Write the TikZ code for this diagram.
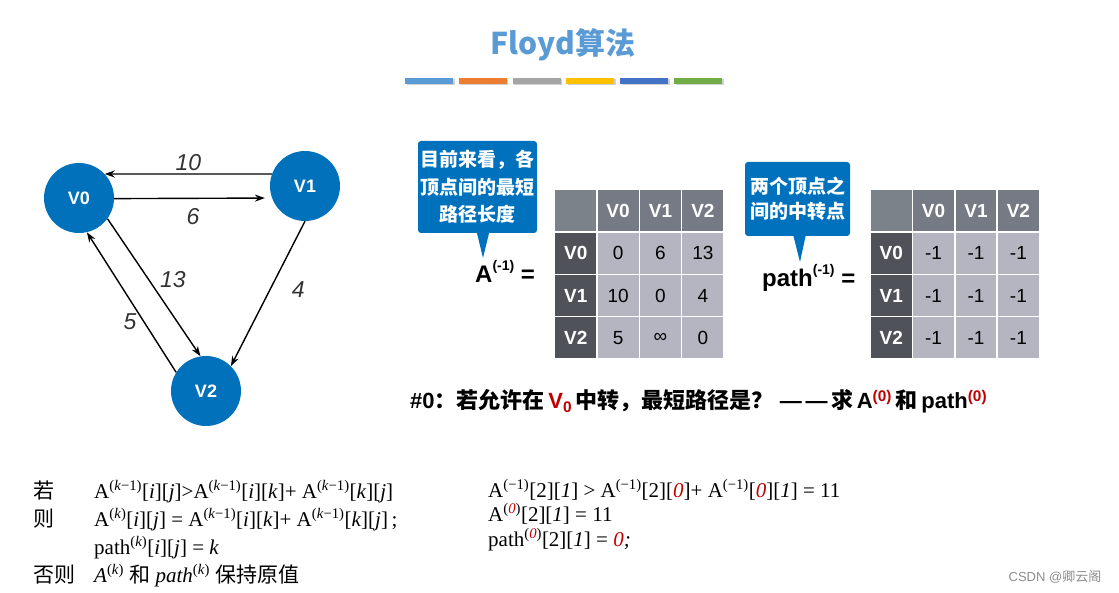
\documentclass[tikz,border=0pt]{standalone}
\usepackage{fontspec}
\setmainfont{Liberation Sans}
\newfontfamily\cjk{Noto Sans CJK SC}
\newfontfamily\timesrm{Liberation Serif}
\usepackage{xcolor}
\usepackage{tikz}
\usetikzlibrary{arrows.meta,positioning}
\definecolor{nodeblue}{HTML}{0071BA}
\definecolor{tipblue}{HTML}{0071BC}
\definecolor{titleblue}{HTML}{5B9BD5}
\definecolor{barorange}{HTML}{ED7D31}
\definecolor{bargray}{HTML}{A5A5A5}
\definecolor{baryellow}{HTML}{FFC000}
\definecolor{barblue}{HTML}{4472C4}
\definecolor{bargreen}{HTML}{70AD47}
\definecolor{cornergray}{HTML}{7C828A}
\definecolor{hdrgray}{HTML}{757A84}
\definecolor{rowgray}{HTML}{4F5359}
\definecolor{cellgray}{HTML}{B5B5C1}
\definecolor{hotred}{HTML}{C00000}
\tikzset{
  vert/.style={circle, fill=nodeblue, minimum size=70pt, inner sep=0pt,
               text=white, font=\bfseries\fontsize{18}{18}\selectfont},
  edge/.style={-{Stealth[length=10pt,width=7pt]}, line width=1.4pt},
  wlabel/.style={font=\itshape\fontsize{23}{23}\selectfont, text=black!80, inner sep=1pt},
  cell/.style={draw=white, line width=1.5pt, minimum size=42.4pt, inner sep=0pt,
               font=\fontsize{19}{19}\selectfont},
  cornercell/.style={cell, fill=cornergray},
  hdrcell/.style={cell, fill=hdrgray, text=white, font=\bfseries\fontsize{19}{19}\selectfont},
  rowcell/.style={cell, fill=rowgray, text=white, font=\bfseries\fontsize{19}{19}\selectfont},
  valcell/.style={cell, fill=cellgray},
  tipbox/.style={fill=tipblue, rounded corners=3pt, text=white, align=center, inner sep=0pt},
  eqlabel/.style={anchor=base west, inner sep=0pt, font=\bfseries\fontsize{24}{24}\selectfont},
  formula/.style={anchor=base west, inner sep=0pt, font=\timesrm\fontsize{21}{21}\selectfont},
}
\newcommand{\supx}[1]{\textsuperscript{#1}}
\newcommand{\eqsup}[1]{\raisebox{0.5em}{\fontsize{14}{14}\selectfont #1}}
\newcommand{\disthead}[1]{%
  \node[cornercell] (#1-c) at (21.2,21.2) {};
  \node[hdrcell] (#1-h0) at (63.6,21.2) {V0};
  \node[hdrcell] (#1-h1) at (106,21.2) {V1};
  \node[hdrcell] (#1-h2) at (148.4,21.2) {V2};
}
\newcommand{\distrow}[6]{%
  \node[rowcell] (#1-r#2) at (21.2,#2*42.4+21.2) {#3};
  \node[valcell] (#1-r#2c0) at (63.6,#2*42.4+21.2) {#4};
  \node[valcell] (#1-r#2c1) at (106,#2*42.4+21.2) {#5};
  \node[valcell] (#1-r#2c2) at (148.4,#2*42.4+21.2) {#6};
}

\begin{document}
\begin{tikzpicture}[x=1pt, y=-1pt]
    \useasboundingbox (0,0) rectangle (1119,593);
    % title and colour bars
    \node[text=titleblue, font=\cjk\bfseries\fontsize{30}{30}\selectfont] (title) at (563,45) {Floyd算法};
    \foreach \x/\c in {405/titleblue, 458.8/barorange, 512.6/bargray,
                       566.4/baryellow, 620.2/barblue, 674/bargreen} {
      \fill[black!18] (\x+1.5,79.5) rectangle ++(48,6);
      \fill[\c] (\x,78) rectangle ++(48,6);
    }

    % graph
    \node[vert] (V0) at (79,198) {V0};
    \node[vert] (V1) at (305,186) {V1};
    \node[vert] (V2) at (206,391) {V2};
    \draw[edge] (V1.160) -- node[wlabel, above=2pt] {10} (V0.43);
    \draw[edge, shorten >=7pt] (V0.-1) -- node[wlabel, below=8pt] {6} (V1.200);
    \draw[edge] (V0.-36) -- node[wlabel, pos=0.44, right=10pt] {13} (V2.99);
    \draw[edge] (V2.148) -- node[wlabel, pos=0.36, left=6pt] {5} (V0.-77);
    \draw[edge] (V1.-90) -- node[wlabel, pos=0.47, right=20pt] {4} (V2.45);

    % distance matrix
    \begin{scope}[shift={(554.5,189.5)}]
      \disthead{A}
      \distrow{A}{1}{V0}{0}{6}{13}
      \distrow{A}{2}{V1}{10}{0}{4}
      \distrow{A}{3}{V2}{5}{∞}{0}
    \end{scope}
    \node[tipbox, minimum width=119pt, minimum height=92pt,
          font=\cjk\bfseries\fontsize{19}{27.5}\selectfont] (tipA) at (477.5,187)
          {目前来看，各\\顶点间的最短\\路径长度};
    \coordinate (tipAend) at (483,258);
    \fill[tipblue] ([xshift=-1pt,yshift=2pt]tipA.south) -- ([xshift=12pt,yshift=2pt]tipA.south) -- (tipAend) -- cycle;
    \node[eqlabel] (Aeq) at (475,283) {A\eqsup{(-1)} =};

    % path matrix
    \begin{scope}[shift={(870,189.5)}]
      \disthead{P}
      \distrow{P}{1}{V0}{-1}{-1}{-1}
      \distrow{P}{2}{V1}{-1}{-1}{-1}
      \distrow{P}{3}{V2}{-1}{-1}{-1}
    \end{scope}
    \node[tipbox, minimum width=105pt, minimum height=74pt,
          font=\cjk\bfseries\fontsize{19}{25}\selectfont] (tipP) at (797.5,199)
          {两个顶点之\\间的中转点};
    \coordinate (tipPend) at (800,262);
    \fill[tipblue] ([xshift=-4.5pt,yshift=2pt]tipP.south) -- ([xshift=8.5pt,yshift=2pt]tipP.south) -- (tipPend) -- cycle;
    \node[eqlabel] (Peq) at (762,287) {path\eqsup{(-1)} =};

    % question
    \node[anchor=base west, inner sep=0pt, font=\bfseries\fontsize{22}{22}\selectfont] (goal) at (410,409)
      {\#0{\cjk ：若允许在}\,{\color{hotred}V\textsubscript{0}}\,{\cjk 中转，最短路径是？}\ —\,—\,{\cjk 求}\,A\textsuperscript{\color{hotred}(0)}\,{\cjk 和}\,path\textsuperscript{\color{hotred}(0)}};

    % update rule
    \node[formula] (ifword) at (33,498) {\cjk 若};
    \node[formula] (ifrule) at (94,498)
      {A\supx{(\textit{k}−1)}[\textit{i}][\textit{j}]>A\supx{(\textit{k}−1)}[\textit{i}][\textit{k}]+ A\supx{(\textit{k}−1)}[\textit{k}][\textit{j}]};
    \node[formula] (thenword) at (33,526) {\cjk 则};
    \node[formula] (thenA) at (94,526)
      {A\supx{(\textit{k})}[\textit{i}][\textit{j}] = A\supx{(\textit{k}−1)}[\textit{i}][\textit{k}]+ A\supx{(\textit{k}−1)}[\textit{k}][\textit{j}]\,;};
    \node[formula] (thenP) at (94,554) {path\supx{(\textit{k})}[\textit{i}][\textit{j}] = \textit{k}};
    \node[formula] (elseword) at (33,582) {\cjk 否则};
    \node[formula] (elserule) at (94,582)
      {\textit{A}\supx{(\textit{k})} {\cjk 和} \textit{path}\supx{(\textit{k})} {\cjk 保持原值}};

    % worked step
    \node[formula] (stepA) at (488,497)
      {A\supx{(−1)}[2][\textit{1}] > A\supx{(−1)}[2][\textcolor{hotred}{\textit{0}}]+ A\supx{(−1)}[\textcolor{hotred}{\textit{0}}][\textit{1}] = 11};
    \node[formula] (stepB) at (488,521) {A\supx{(\textcolor{hotred}{\textit{0}})}[2][\textit{1}] = 11};
    \node[formula] (stepC) at (488,546)
      {path\supx{(\textcolor{hotred}{\textit{0}})}[2][\textit{1}] = \textcolor{hotred}{\textit{0}}\textit{;}};

    \node[text=black!45, font=\fontsize{13}{13}\selectfont] (mark) at (1055,577) {CSDN @{\cjk 卿云阁}};
  \end{tikzpicture}
\end{document}
